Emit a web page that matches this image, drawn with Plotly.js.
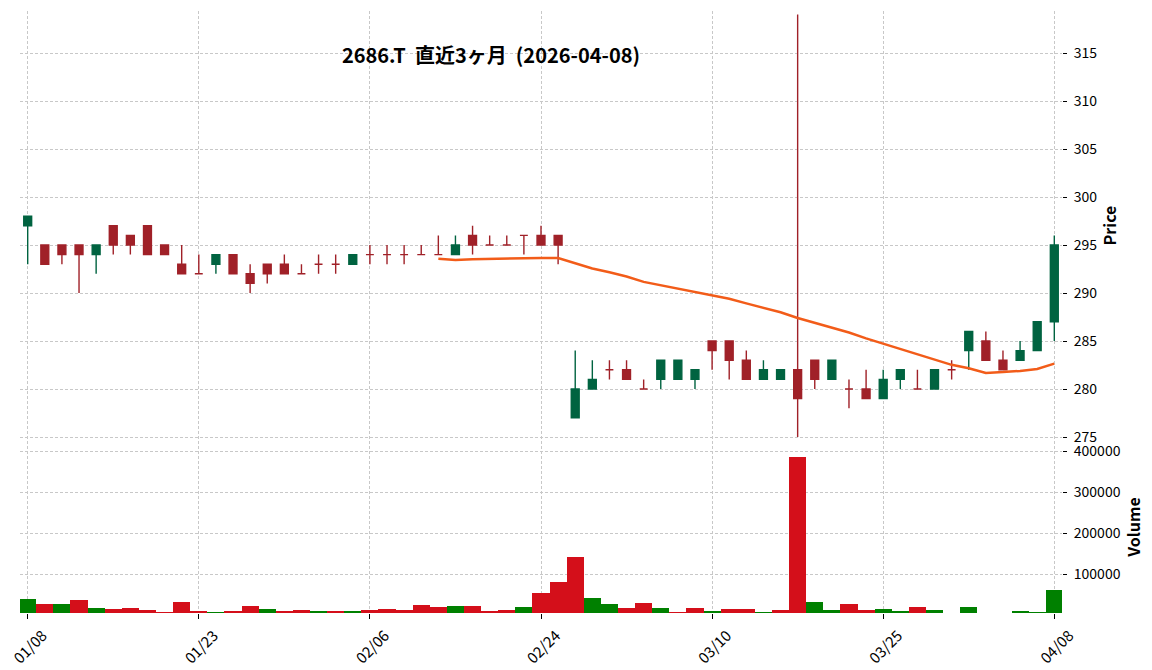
<!DOCTYPE html>
<html>
<head>
<meta charset="utf-8">
<script src="https://cdn.plot.ly/plotly-3.0.1.min.js"></script>
<style>
html,body{margin:0;padding:0;background:#fff;}
#chart{width:1152px;height:670px;}
</style>
</head>
<body>
<div id="chart"></div>
<script>
const dates = ['01/08','01/09','01/13','01/14','01/15','01/16','01/19','01/20','01/21','01/22',
  '01/23','01/26','01/27','01/28','01/29','01/30','02/02','02/03','02/04','02/05',
  '02/06','02/09','02/10','02/12','02/13','02/16','02/17','02/18','02/19','02/20',
  '02/24','02/25','02/26','02/27','03/02','03/03','03/04','03/05','03/06','03/09',
  '03/10','03/11','03/12','03/13','03/16','03/17','03/18','03/19','03/23','03/24',
  '03/25','03/26','03/27','03/30','03/31','04/01','04/02','04/03','04/06','04/07','04/08'];

const opens  = [297,295,295,295,294,297,296,297,295,293, 292,293,294,292,293,293,292,293,293,293,
  294,294,294,294,294,294,296,295,295,296, 296,296,277,280,282,282,280,281,281,281,
  285,285,283,281,281,282,283,281,280,280, 279,281,280,280,282,284,285,283,283,284,287];
const highs  = [298,295,295,295,295,297,296,297,295,295, 294,294,294,293,293,294,293,294,294,294,
  295,295,295,295,296,296,297,296,296,296, 297,296,284,283,283,283,281,283,283,282,
  285,285,284,283,282,319,283,283,281,282, 282,282,282,282,283,286,286,284,285,287,296];
const lows   = [293,293,293,290,292,294,294,294,294,292, 292,292,292,290,291,292,292,292,292,293,
  293,293,293,294,294,294,294,295,295,294, 295,293,277,280,281,281,280,280,281,280,
  282,281,281,281,281,275,280,281,278,279, 279,280,280,280,281,282,283,282,283,284,285];
const closes = [298,293,294,294,295,295,295,294,294,292, 292,294,292,291,292,292,292,293,293,294,
  294,294,294,294,294,295,295,295,295,296, 295,295,280,281,282,281,280,283,283,282,
  284,283,281,282,282,279,281,283,280,279, 281,282,280,282,282,286,283,282,284,287,295];
const volumes = [40000,28000,28000,37500,18000,15600,18000,13200,8400,32700,
  10800,8000,10800,23000,15600,10800,13200,10800,10800,10800,
  13200,15600,13200,25400,20500,23000,23000,10800,13200,20500,
  54600,81300,142000,42400,27800,18000,30200,18000,8300,18000,
  10700,15600,15600,8300,13200,386000,32700,13200,27800,13200,
  15600,10700,20500,13200,null,20500,null,null,10700,8300,62000];
const ma25 = [null,null,null,null,null,null,null,null,null,null,
  null,null,null,null,null,null,null,null,null,null,
  null,null,null,null,293.56,293.44,293.52,293.56,293.60,293.64,
  293.64,293.64,293.08,292.56,292.16,291.72,291.16,290.80,290.48,290.08,
  289.76,289.40,288.92,288.48,288.00,287.40,286.88,286.44,285.88,285.28,
  284.72,284.20,283.60,283.08,282.52,282.16,281.68,281.76,281.88,282.08,282.64];
const tickLabels = ['01/08','01/23','02/06','02/24','03/10','03/25','04/08'];
const priceTicks = [275,280,285,290,295,300,305,310,315];
const volumeTicks = [100000,200000,300000,400000];
const titleText = '2686.T  直近3ヶ月  (2026-04-08)';

const UP = '#006340', DOWN = '#a02128';
const VUP = '#008000', VDOWN = '#d40f1a';
const FONT = '"Noto Sans CJK JP", "Noto Sans", sans-serif';

function pick(arr, idx){ return idx.map(i => arr[i]); }
const upIdx = [], downIdx = [];
closes.forEach((c, i) => { (c > opens[i] ? upIdx : downIdx).push(i); });

function candle(idx, color){
  return {
    type: 'candlestick', xaxis: 'x2', yaxis: 'y',
    x: pick(dates, idx), open: pick(opens, idx), high: pick(highs, idx),
    low: pick(lows, idx), close: pick(closes, idx),
    increasing: {line: {color: color, width: 1.4}, fillcolor: color},
    decreasing: {line: {color: color, width: 1.4}, fillcolor: color},
    whiskerwidth: 0, showlegend: false, hoverinfo: 'skip'
  };
}

const volColors = closes.map((c, i) => (i === 0 || c > closes[i-1]) ? VUP : VDOWN);

const traces = [
  {type: 'bar', xaxis: 'x', yaxis: 'y2', x: dates, y: volumes, width: 1,
   marker: {color: volColors, line: {width: 0}}, showlegend: false, hoverinfo: 'skip'},
  {type: 'scatter', mode: 'lines', xaxis: 'x2', yaxis: 'y', x: dates, y: ma25,
   line: {color: '#f25c19', width: 2.5}, showlegend: false, hoverinfo: 'skip'},
  candle(downIdx, DOWN),
  candle(upIdx, UP)
];

const grid = {showgrid: true, gridcolor: '#c8c8c8', gridwidth: 1, griddash: '3px,2px'};

const layout = {
  width: 1152, height: 670,
  margin: {l: 20, r: 90, t: 11, b: 57},
  paper_bgcolor: '#fff', plot_bgcolor: '#fff',
  font: {family: FONT, size: 14, color: '#000'},
  showlegend: false,
  bargap: 0,
  boxgap: 0.34,
  title: {text: titleText, x: 491/1152, xanchor: 'center', xref: 'container',
          y: 1 - 56/670, yanchor: 'middle', yref: 'container',
          font: {family: FONT, size: 20, weight: 'bold', color: '#000'}},
  xaxis: Object.assign({
    type: 'category', categoryorder: 'array', categoryarray: dates,
    anchor: 'y2', range: [-0.45, 60.45],
    tickmode: 'array', tickvals: tickLabels, ticktext: tickLabels,
    tickangle: -45, ticks: 'outside', ticklen: 5, tickcolor: '#000', tickwidth: 1,
    ticklabelshift: 15, ticklabelstandoff: 2,
    showline: false, zeroline: false, rangeslider: {visible: false},
    tickfont: {family: FONT, size: 15}
  }, grid),
  xaxis2: Object.assign({
    type: 'category', categoryorder: 'array', categoryarray: dates,
    anchor: 'y', matches: 'x', range: [-0.45, 60.45],
    tickmode: 'array', tickvals: tickLabels, showticklabels: false, ticks: '',
    showline: false, zeroline: false, rangeslider: {visible: false}
  }, grid),
  yaxis: Object.assign({
    domain: [0.2874, 1], anchor: 'x2', side: 'right', range: [274.69, 319.375],
    tickmode: 'array', tickvals: priceTicks,
    ticks: 'outside', ticklen: 4, tickcolor: '#000', tickwidth: 1, ticklabelstandoff: 4,
    showline: false, zeroline: false,
    title: {text: 'Price', standoff: 7, font: {family: FONT, size: 16, weight: 'bold'}},
    tickfont: {family: FONT, size: 14}
  }, grid),
  yaxis2: Object.assign({
    domain: [0, 0.2857], anchor: 'x', side: 'right', range: [5850, 425400],
    tickmode: 'array', tickvals: volumeTicks, tickformat: 'd',
    ticks: 'outside', ticklen: 4, tickcolor: '#000', tickwidth: 1, ticklabelstandoff: 4,
    showline: false, zeroline: false,
    title: {text: 'Volume', standoff: 6, font: {family: FONT, size: 16, weight: 'bold'}},
    tickfont: {family: FONT, size: 14}
  }, grid)
};

Plotly.newPlot('chart', traces, layout, {staticPlot: true, displayModeBar: false});
</script>
</body>
</html>
